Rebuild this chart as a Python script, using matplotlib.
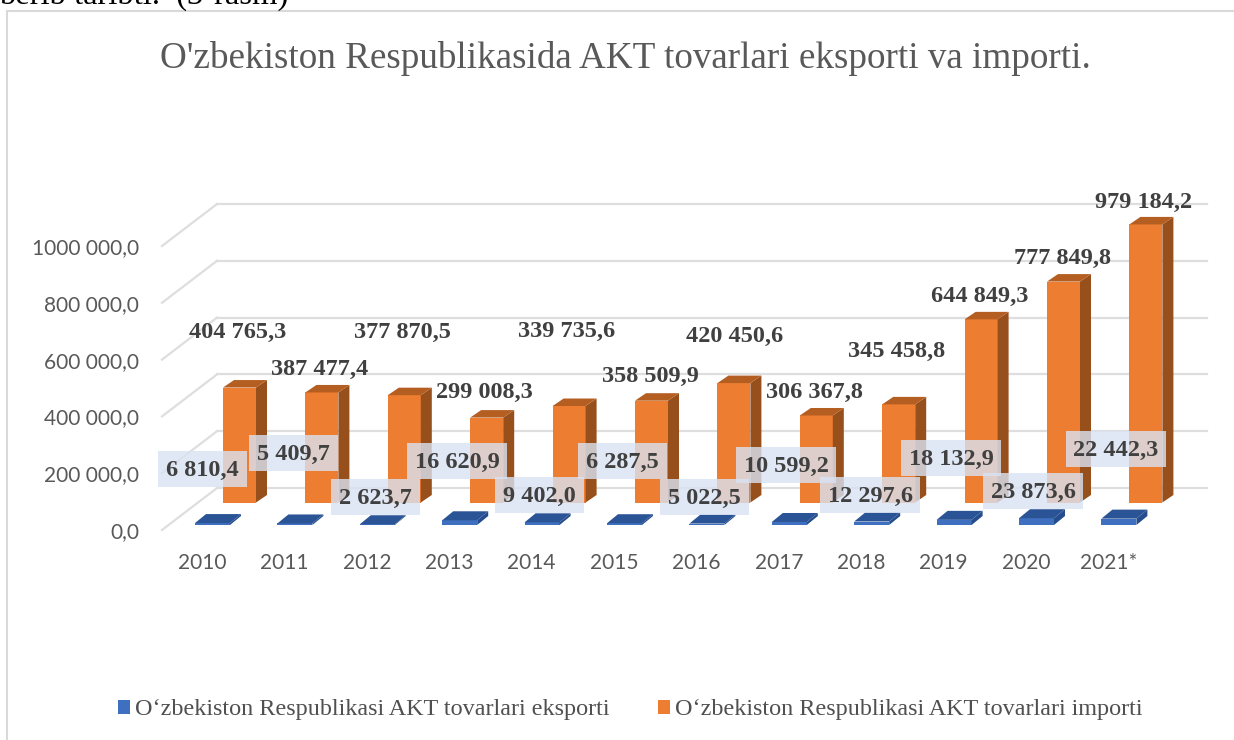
import matplotlib
matplotlib.use("Agg")
import matplotlib.pyplot as plt
from matplotlib.patches import Rectangle, Polygon, Patch

years = ["2010", "2011", "2012", "2013", "2014", "2015", "2016", "2017", "2018", "2019", "2020", "2021*"]
export_vals = [6810.4, 5409.7, 2623.7, 16620.9, 9402.0, 6287.5, 5022.5, 10599.2, 12297.6, 18132.9, 23873.6, 22442.3]
import_vals = [404765.3, 387477.4, 377870.5, 299008.3, 339735.6, 358509.9, 420450.6, 306367.8, 345458.8, 644849.3, 777849.8, 979184.2]
y_ticks = [0, 200000, 400000, 600000, 800000, 1000000]
y_tick_labels = ["0,0", "200 000,0", "400 000,0", "600 000,0", "800 000,0", "1000 000,0"]
title = "O'zbekiston Respublikasida AKT tovarlari eksporti va importi."
export_name = "O‘zbekiston Respublikasi AKT tovarlari eksporti"
import_name = "O‘zbekiston Respublikasi AKT tovarlari importi"
caption = "berib taribti.  (3-rasm)"

W, H = 1234, 740
fig = plt.figure(figsize=(W / 100, H / 100), dpi=100)

# axes: pixel frame, y=0 at pixel row 530, 56.8 px per 200 000
AX_L, AX_R, AX_T, AX_B = 150, 1207, 190, 530
ax = fig.add_axes([AX_L / W, 1 - AX_B / H, (AX_R - AX_L) / W, (AX_B - AX_T) / H])
PX_X = 82.4
PX_Y = 56.8 / 200000
ax.set_xlim((AX_L - 202) / PX_X, (AX_R - 202) / PX_X)
ax.set_ylim(0, (AX_B - AX_T) / PX_Y)
for s in ax.spines.values():
    s.set_visible(False)
ax.patch.set_alpha(0)
ax.set_xticks(range(len(years)), years)
ax.set_yticks(y_ticks, y_tick_labels)
ax.tick_params(length=0, colors="#595959", labelsize=15, pad=8)
for lab in ax.get_xticklabels() + ax.get_yticklabels():
    lab.set_fontfamily("Lato")
ax.tick_params(axis="x", pad=16.5)


def dx(px):
    return px / PX_X


def dy(px):
    return px * 1.0 / PX_Y


# walls
GRID = "#dedede"
for t in y_ticks:
    ax.plot([(162 - 202) / PX_X, (217 - 202) / PX_X], [t, t + dy(42)], color=GRID, lw=1.6, clip_on=False, zorder=1)
    ax.plot([(217 - 202) / PX_X, (1207 - 202) / PX_X], [t + dy(42), t + dy(42)], color=GRID, lw=1.6, clip_on=False, zorder=1)


def bar3d(i, v, cx_px, base_px, width_px, depth_x, depth_y, front, side, top, z):
    c = i + dx(cx_px)
    b = dy(base_px)
    hw = dx(width_px / 2)
    ddx, ddy = dx(depth_x), dy(depth_y)
    ax.bar(c, v, bottom=b, width=2 * hw, color=front, zorder=z, clip_on=False)
    ax.add_patch(Polygon([(c + hw, b), (c + hw + ddx, b + ddy), (c + hw + ddx, b + v + ddy), (c + hw, b + v)],
                         closed=True, fc=side, ec="none", zorder=z, clip_on=False))
    ax.add_patch(Polygon([(c - hw, b + v), (c - hw + ddx, b + v + ddy), (c + hw + ddx, b + v + ddy), (c + hw, b + v)],
                         closed=True, fc=top, ec="none", zorder=z, clip_on=False))


for i, (e, m) in enumerate(zip(export_vals, import_vals)):
    bar3d(i, m, 37.5, 27.5, 33, 11, 7.5, "#ed7d31", "#974f1c", "#b55e22", 3)
    bar3d(i, e, 10.5, 5, 35, 11, 9, "#3f70bf", "#254c8c", "#2b5496", 4)


def fmt(v):
    s = f"{v:,.1f}"
    return s.replace(",", " ").replace(".", ",")


# label centres in pixels
import_pos = [(238, 331), (320, 368), (402, 331), (484, 391), (567, 330), (650, 375),
              (735, 335), (814, 391), (897, 350), (980, 295), (1062, 257), (1144, 201)]
export_pos = [(202, 469), (293, 453), (375, 497), (457, 461), (539, 495), (622, 461),
              (704, 497), (786, 465), (870, 495), (951, 458), (1033, 491), (1116, 449)]
LAB = dict(family="Liberation Serif", weight="bold", fontsize=17.5, color="#404040",
           ha="center", va="center", zorder=10)
for v, (x, y) in zip(import_vals, import_pos):
    fig.text(x / W, 1 - (y + 1.5) / H, fmt(v), **LAB)
for v, (x, y) in zip(export_vals, export_pos):
    w = 89 if v < 10000 else 100
    fig.patches.append(Rectangle((x - w / 2, H - y - 18), w, 36, transform=None, fc="#dae3f3", alpha=0.8, ec="none", zorder=9))
    fig.text(x / W, 1 - (y + 1.5) / H, fmt(v), **LAB)

# title, frame and clipped caption
fig.text(625 / W, 1 - 58 / H, title, family="Liberation Serif", fontsize=26.7, color="#595959", ha="center", va="center")
fig.patches.append(Rectangle((7, -5), W, H - 11 + 5, transform=None, fc="none", ec="#d9d9d9", lw=1.5, zorder=0))
fig.text(-1 / W, 1 - 4 / H, caption, family="Liberation Serif", fontsize=23.5, color="black", ha="left", va="baseline")

# legend
leg = fig.legend(handles=[Patch(fc="#3f70bf", label=export_name), Patch(fc="#ed7d31", label=import_name)],
                 loc="center", bbox_to_anchor=(630 / W, 1 - 710 / H), ncols=2, frameon=False,
                 prop=dict(family="Liberation Serif", size=17.4), handlelength=0.5, handleheight=0.5, handletextpad=0.2,
                 columnspacing=2.0, labelcolor="#505050")

fig.savefig("out.png", dpi=100)
